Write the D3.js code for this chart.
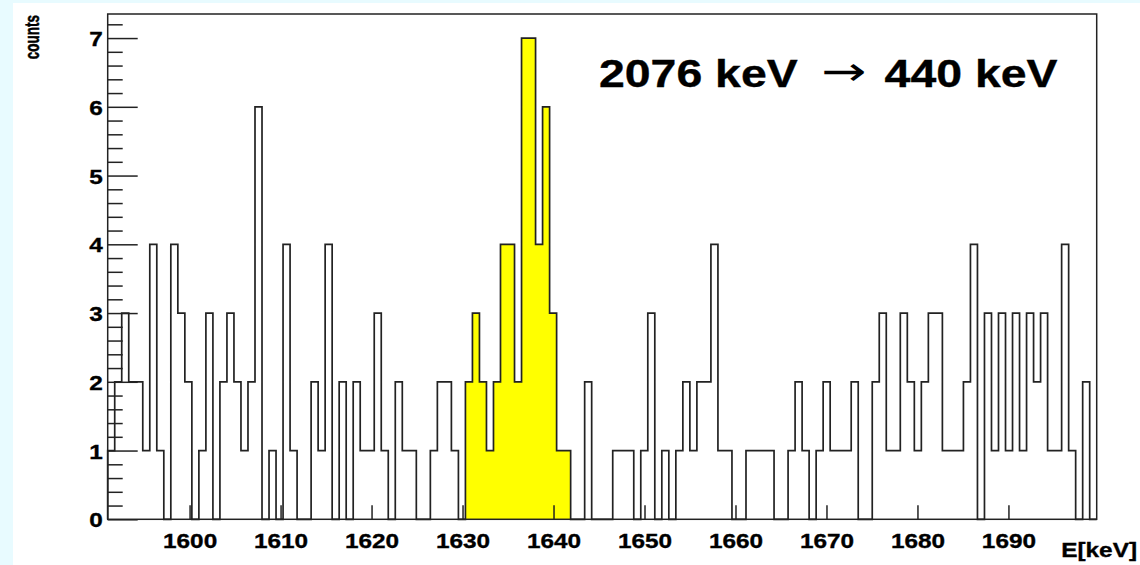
<!DOCTYPE html>
<html>
<head>
<meta charset="utf-8">
<script src="https://cdn.jsdelivr.net/npm/d3@7"></script>
<style>
  html, body { margin: 0; padding: 0; background: #e8fbff; }
  svg { display: block; }
  text { font-family: "Liberation Sans", Arial, Helvetica, sans-serif; font-weight: bold; fill: #000; stroke: #000; stroke-width: 0.35px; }
</style>
</head>
<body>
<svg id="chart" width="1140" height="565"></svg>
<script>
// Energy histogram: counts per bin between 1591.0 and 1699.7 keV (141 bins)
const energyRange = [1591.0, 1699.7];
const counts = [
  1, 2, 3, 2, 2, 1, 4, 1, 0, 4,   3, 2, 0, 1, 3, 0, 2, 3, 2, 1,
  2, 6, 0, 1, 0, 4, 1, 0, 0, 2,   1, 4, 0, 2, 0, 2, 1, 1, 3, 1,
  0, 2, 1, 1, 0, 0, 1, 2, 2, 1,   0, 2, 3, 2, 1, 2, 4, 4, 2, 7,
  7, 4, 6, 3, 1, 1, 0, 0, 2, 0,   0, 0, 1, 1, 1, 0, 1, 3, 0, 1,
  0, 1, 2, 1, 2, 2, 4, 1, 1, 0,   0, 1, 1, 1, 1, 0, 0, 1, 2, 1,
  0, 1, 2, 1, 1, 1, 2, 0, 0, 2,   3, 1, 1, 3, 2, 1, 2, 3, 3, 1,
  1, 1, 2, 4, 0, 3, 1, 3, 1, 3,   1, 3, 2, 3, 1, 1, 4, 1, 0, 2,
  0
];
// Highlighted peak window (keV)
const peakWindow = [1630.3, 1641.9];
const xTicks = [1600, 1610, 1620, 1630, 1640, 1650, 1660, 1670, 1680, 1690];
const yTicks = [0, 1, 2, 3, 4, 5, 6, 7];
const yMax = 7.35;
const xTitle = "E[keV]";
const yTitle = "counts";
const annotation = ["2076 keV", "\u2192", "440 keV"];

const svg = d3.select("#chart");
const frame = { left: 107.7, right: 1096.7, top: 14, bottom: 519.3 };
const ink = "#222222";
const textStretch = 1.16;

// white pad
svg.append("rect").attr("x", 13).attr("y", 3).attr("width", 1140 - 13).attr("height", 565 - 3).attr("fill", "#ffffff");

const x = d3.scaleLinear().domain(energyRange).range([frame.left, frame.right]);
const y = d3.scaleLinear().domain([0, yMax]).range([frame.bottom, frame.top]);

const nBins = counts.length;
const binWidth = (energyRange[1] - energyRange[0]) / nBins;
const bins = counts.map((c, i) => ({
  lo: energyRange[0] + i * binWidth,
  hi: energyRange[0] + (i + 1) * binWidth,
  c
}));

// yellow peak region
const peakBins = bins.filter(b => {
  const mid = (b.lo + b.hi) / 2;
  return mid > peakWindow[0] && mid < peakWindow[1];
});
const peakArea = d3.area()
  .x(d => x(d[0])).y0(y(0)).y1(d => y(d[1]))
  .curve(d3.curveStepAfter);
const peakPts = peakBins.map(b => [b.lo, b.c]);
peakPts.push([peakBins[peakBins.length - 1].hi, peakBins[peakBins.length - 1].c]);
svg.append("path").attr("d", peakArea(peakPts)).attr("fill", "#ffff00").attr("stroke", "none");

// histogram outline
const stepPts = [[bins[0].lo, 0]];
bins.forEach(b => { stepPts.push([b.lo, b.c]); stepPts.push([b.hi, b.c]); });
stepPts.push([bins[nBins - 1].hi, 0]);
const stepLine = d3.line().x(d => x(d[0])).y(d => y(d[1]));
svg.append("path").attr("d", stepLine(stepPts))
  .attr("fill", "none").attr("stroke", ink).attr("stroke-width", 1.7).attr("stroke-linejoin", "miter");

// axes
const yMinor = d3.range(0, yMax, 0.2).map(v => Math.round(v * 10) / 10).filter(v => Math.abs(v - Math.round(v)) > 1e-6);
const gYminor = svg.append("g").attr("transform", `translate(${frame.left},0)`)
  .call(d3.axisLeft(y).tickValues(yMinor).tickSizeInner(-15).tickSizeOuter(0).tickFormat(""));
const gY = svg.append("g").attr("transform", `translate(${frame.left},0)`)
  .call(d3.axisLeft(y).tickValues(yTicks).tickSizeInner(-30).tickSizeOuter(0).tickPadding(5).tickFormat(d3.format("d")));
const gX = svg.append("g").attr("transform", `translate(0,${frame.bottom})`)
  .call(d3.axisBottom(x).tickValues(xTicks).tickSizeInner(-14).tickSizeOuter(0).tickPadding(14).tickFormat(d3.format("d")));

[gYminor, gY, gX].forEach(g => {
  g.select(".domain").remove();
  g.selectAll("line").attr("stroke", ink).attr("stroke-width", 1.5);
  g.selectAll("text").attr("font-size", 21).attr("font-family", null).attr("fill", "#000");
});
gY.selectAll("text").each(function () {
  const t = d3.select(this);
  const tx = +t.attr("x");
  t.attr("x", tx / textStretch).attr("transform", `scale(${textStretch},1)`).attr("dy", "0.36em");
});
gX.selectAll("text").attr("transform", `scale(${textStretch},1)`);

// frame
svg.append("rect")
  .attr("x", frame.left).attr("y", frame.top)
  .attr("width", frame.right - frame.left).attr("height", frame.bottom - frame.top)
  .attr("fill", "none").attr("stroke", ink).attr("stroke-width", 1.5);

// axis titles
svg.append("text")
  .attr("transform", `translate(1137,557) scale(${textStretch},1)`)
  .attr("text-anchor", "end").attr("font-size", 21)
  .text(xTitle);
svg.append("text")
  .attr("transform", "translate(38.5,15) rotate(-90) scale(1,1.45)")
  .attr("text-anchor", "end").attr("font-size", 13.5)
  .text(yTitle);

// reaction label
const lab = svg.append("text")
  .attr("transform", "translate(599,87) scale(1.19,1)")
  .attr("font-size", 39);
lab.append("tspan").attr("x", 0).text(annotation[0]);
lab.append("tspan").attr("x", 187).attr("font-weight", "normal")
  .attr("font-family", "DejaVu Sans").attr("font-size", 40).attr("dy", -2)
  .attr("stroke-width", 0)
  .attr("textLength", 38).attr("lengthAdjust", "spacingAndGlyphs")
  .text(annotation[1]);
lab.append("tspan").attr("x", 240).attr("dy", 2).text(annotation[2]);
</script>
</body>
</html>
